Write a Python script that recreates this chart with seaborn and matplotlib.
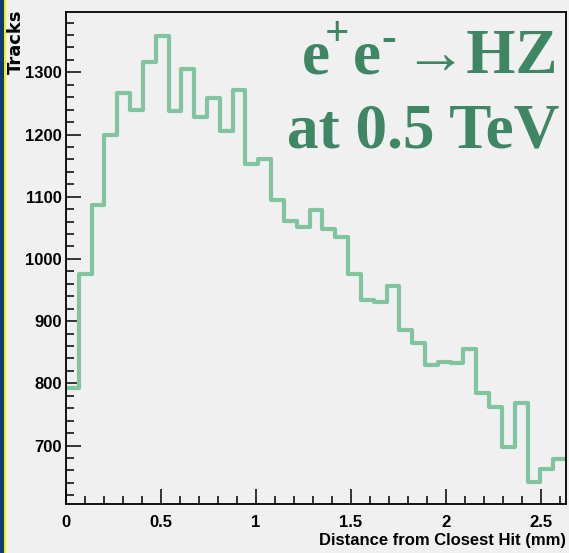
import pandas as pd
import matplotlib
matplotlib.use("Agg")
import matplotlib.pyplot as plt
from matplotlib.patches import Rectangle
from matplotlib.ticker import MultipleLocator
import seaborn as sns

# Track counts per bin of distance to the closest hit (mm)
bin_width = 0.0675
n_bins = 39
track_counts = [
    793, 976, 1087, 1200, 1266, 1240, 1316, 1358, 1238, 1305,
    1228, 1259, 1206, 1271, 1152, 1160, 1094, 1061, 1051, 1078,
    1048, 1036, 976, 934, 930, 957, 885, 865, 830, 835,
    833, 855, 784, 762, 698, 769, 641, 663, 678,
]
x_ticks = [0, 0.5, 1, 1.5, 2, 2.5]
x_tick_labels = ["0", "0.5", "1", "1.5", "2", "2.5"]
y_ticks = [700, 800, 900, 1000, 1100, 1200, 1300]

edges = [i * bin_width for i in range(n_bins + 1)]
centers = [(edges[i] + edges[i + 1]) / 2 for i in range(n_bins)]
df = pd.DataFrame({"distance": centers, "tracks": track_counts})

BG = "#f0f0f0"
LINE = "#80c4a0"
TEXT_GREEN = "#3e8664"

sns.set_theme(style="white")
plt.rcParams["font.family"] = ["Liberation Sans", "DejaVu Sans"]

W, H = 569, 553
AX_L, AX_R, AX_T, AX_B = 66, 566, 12, 504
fig = plt.figure(figsize=(W / 100, H / 100), dpi=100, facecolor=BG)
ax = fig.add_axes([AX_L / W, (H - AX_B) / H, (AX_R - AX_L) / W, (AX_B - AX_T) / H],
                  facecolor=BG)

sns.histplot(data=df, x="distance", weights="tracks", bins=edges, element="step",
             fill=False, color=LINE, linewidth=3.0, ax=ax)

ax.set_xlim(0, edges[-1])
ax.set_ylim(606, 1397)

for s in ax.spines.values():
    s.set_visible(True)
    s.set_color("black")
    s.set_linewidth(1.3)

ax.set_xticks(x_ticks)
ax.set_xticklabels(x_tick_labels)
ax.set_yticks(y_ticks)
ax.xaxis.set_minor_locator(MultipleLocator(0.1))
ax.yaxis.set_minor_locator(MultipleLocator(20))
ax.tick_params(which="both", direction="in", top=False, right=False,
               bottom=True, left=True, color="black", width=1.1)
ax.tick_params(which="major", length=10.8)
ax.tick_params(which="minor", length=5.8)
ax.tick_params(axis="x", which="major", pad=8)
ax.tick_params(axis="y", which="major", pad=3)
for lab in ax.get_xticklabels() + ax.get_yticklabels():
    lab.set_fontsize(12)
    lab.set_fontweight("bold")
    lab.set_color("black")

ax.set_xlabel("Distance from Closest Hit (mm)", fontsize=12, fontweight="bold",
              color="black", loc="right")
ax.xaxis.set_label_coords(1.0, -0.058)
ax.set_ylabel("Tracks", fontsize=13, fontweight="bold", color="black",
              loc="top", family="DejaVu Sans")
ax.yaxis.set_label_coords(-0.083, 1.005)


def ax_pos(px, py):
    """Pixel position on the canvas -> axes fraction."""
    return (px - AX_L) / (AX_R - AX_L), (AX_B - py) / (AX_B - AX_T)


serif = dict(family="Liberation Serif", fontweight="bold", color=TEXT_GREEN,
             transform=ax.transAxes)
ax.text(*ax_pos(302, 73), "e", ha="left", va="baseline", fontsize=45.5, **serif)
ax.text(*ax_pos(337, 35), "+", ha="center", va="center", fontsize=31, **serif)
ax.text(*ax_pos(353, 73), "e", ha="left", va="baseline", fontsize=45.5, **serif)
ax.text(*ax_pos(389, 40), "-", ha="center", va="center", fontsize=32, **serif)
ax.text(*ax_pos(558, 73), "\u2192HZ", ha="right", va="baseline", fontsize=45.5, **serif)
ax.text(*ax_pos(559, 148), "at 0.5 TeV", ha="right", va="baseline", fontsize=45.5,
        **serif)

# Navy and yellow stripe along the left edge of the canvas
fig.patches.append(Rectangle((0, 0), 4.0 / W, 1, transform=fig.transFigure,
                             facecolor="#0d3a78", edgecolor="none"))
fig.patches.append(Rectangle((4.0 / W, 0), 2.0 / W, 1, transform=fig.transFigure,
                             facecolor="#f5f000", edgecolor="none"))

fig.savefig("out.png", dpi=100, facecolor=BG)
